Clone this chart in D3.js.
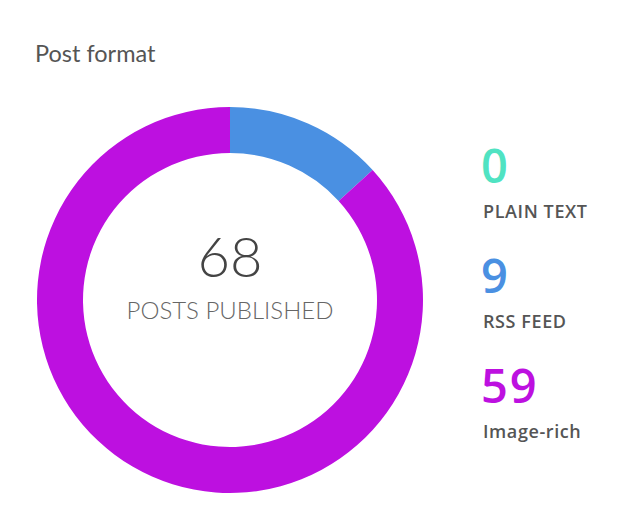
<!DOCTYPE html>
<html>
<head>
<meta charset="utf-8">
<script src="https://cdn.jsdelivr.net/npm/d3@7"></script>
<style>
  body { margin: 0; background: #fff; }
</style>
</head>
<body>
<div id="post-format"></div>
<script>
// post format breakdown
const formats = ["PLAIN TEXT", "RSS FEED", "Image-rich"];
const counts = [0, 9, 59];
const colors = ["#50e3c2", "#4a90e2", "#bd10e0"];

const width = 640, height = 525;
const cx = 230, cy = 300,
    outerR = 193, innerR = 147;

const svg = d3.select("#post-format").append("svg")
    .attr("width", width)
    .attr("height", height);

svg.append("text")
    .attr("x", 35)
    .attr("y", 62)
    .attr("font-family", "Lato")
    .attr("font-size", 23.5)
    .attr("fill", "#555")
    .text("Post format");

const data = formats.map(function(f, i) { return {name: f, value: counts[i], color: colors[i]}; });

const pie = d3.pie()
    .sort(null)
    .value(function(d) { return d.value; });

const arc = d3.arc()
    .innerRadius(innerR)
    .outerRadius(outerR);

const g = svg.append("g")
    .attr("transform", "translate(" + cx + "," + cy + ")");

g.selectAll("path")
    .data(pie(data))
    .enter().append("path")
    .attr("d", arc)
    .attr("fill", function(d) { return d.data.color; });

g.append("text")
    .attr("text-anchor", "middle")
    .attr("y", -23)
    .attr("font-family", "Lato")
    .attr("font-weight", 300)
    .attr("font-size", 56)
    .attr("fill", "#444")
    .text(d3.sum(counts));

g.append("text")
    .attr("text-anchor", "middle")
    .attr("y", 19)
    .attr("font-family", "Lato")
    .attr("font-weight", 300)
    .attr("font-size", 24)
    .attr("fill", "#666")
    .text("POSTS PUBLISHED");

// legend on the right
const y = d3.scaleBand()
    .domain(formats)
    .range([150, 480]);

const legend = svg.selectAll(".legend")
    .data(data)
    .enter().append("g")
    .attr("class", "legend")
    .attr("transform", function(d) { return "translate(481," + y(d.name) + ")"; });

legend.append("text")
    .attr("y", 33)
    .attr("font-family", "Open Sans")
    .attr("font-weight", 600)
    .attr("font-size", 47)
    .attr("letter-spacing", 2)
    .attr("fill", function(d) { return d.color; })
    .text(function(d) { return d.value; });

legend.append("text")
    .attr("x", 2)
    .attr("y", 68)
    .attr("font-family", "Open Sans")
    .attr("font-weight", 600)
    .attr("font-size", 18)
    .attr("letter-spacing", 0.6)
    .attr("fill", "#555")
    .text(function(d) { return d.name; });
</script>
</body>
</html>
